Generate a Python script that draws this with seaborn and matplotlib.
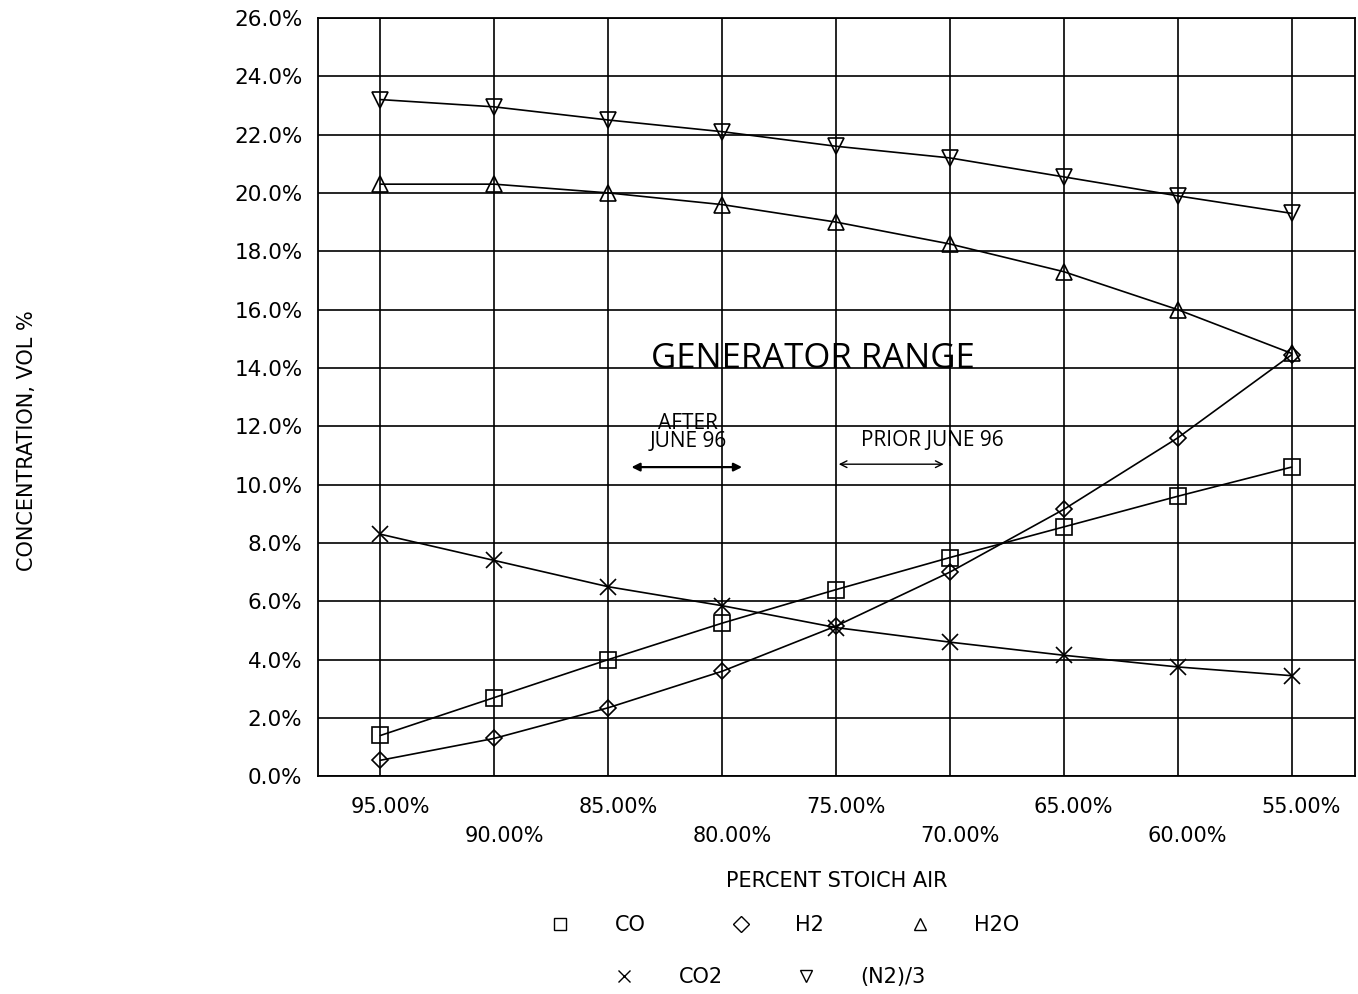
"""
Gas composition vs. percent stoichiometric air (generator range chart).
"""

import numpy as np
import pandas as pd
import matplotlib
matplotlib.use("Agg")
import matplotlib.pyplot as plt
import matplotlib.transforms as mtransforms
from matplotlib.lines import Line2D
from matplotlib.ticker import FixedLocator, FuncFormatter
import seaborn as sns

# ---- data (vol %) ----
stoich_air = ["95.00%", "90.00%", "85.00%", "80.00%", "75.00%",
              "70.00%", "65.00%", "60.00%", "55.00%"]
co = [1.4, 2.7, 4.0, 5.25, 6.4, 7.5, 8.55, 9.6, 10.6]
h2 = [0.55, 1.3, 2.35, 3.6, 5.15, 7.0, 9.15, 11.6, 14.45]
h2o = [20.3, 20.3, 20.0, 19.6, 19.0, 18.25, 17.3, 16.0, 14.5]
co2 = [8.3, 7.4, 6.5, 5.85, 5.1, 4.6, 4.15, 3.75, 3.45]
n2_3 = [23.2, 22.95, 22.5, 22.1, 21.6, 21.2, 20.55, 19.9, 19.3]

series = {"CO": co, "H2": h2, "H2O": h2o, "CO2": co2, "(N2)/3": n2_3}
markers = {"CO": "s", "H2": "D", "H2O": "^", "CO2": "x", "(N2)/3": "v"}
msizes = {"CO": 11, "H2": 8, "H2O": 11, "CO2": 11, "(N2)/3": 11}

idx = np.arange(len(stoich_air))
df = pd.DataFrame({"idx": np.tile(idx, len(series)),
                   "gas": np.repeat(list(series), len(idx)),
                   "conc": np.concatenate([series[k] for k in series])})

sns.set_theme(style="white")
plt.rcParams["font.family"] = ["DejaVu Sans"]
for k in ["text.color", "axes.labelcolor", "xtick.color", "ytick.color"]:
    plt.rcParams[k] = "black"

fig = plt.figure(figsize=(13.58, 9.94), dpi=100)
ax = fig.add_axes([0.234, 0.219, 0.764, 0.763])

for gas in series:
    sub = df[df["gas"] == gas]
    sns.lineplot(data=sub, x="idx", y="conc", ax=ax, color="black",
                 linewidth=1.2, marker=markers[gas], markersize=msizes[gas],
                 markerfacecolor="none", markeredgecolor="black",
                 markeredgewidth=1.2, legend=False, zorder=3)

ax.set_xlim(-0.55, 8.56)
ax.set_ylim(0, 26)

# staggered x tick labels: even positions high, odd positions low
ax.xaxis.set_major_locator(FixedLocator(idx[::2]))
ax.xaxis.set_minor_locator(FixedLocator(idx[1::2]))
ax.set_xticklabels(stoich_air[::2], fontsize=15)
ax.set_xticklabels(stoich_air[1::2], minor=True, fontsize=15)
ax.tick_params(axis="x", which="major", direction="out", length=10,
               width=1.3, color="black", pad=5)
ax.tick_params(axis="x", which="minor", direction="out", length=33,
               width=1.3, color="black", pad=3)
# labels sit slightly right of their ticks in the original
shift = mtransforms.ScaledTranslation(10 / 100, 0, fig.dpi_scale_trans)
for lab in ax.get_xticklabels() + ax.get_xticklabels(minor=True):
    lab.set_transform(lab.get_transform() + shift)

ax.set_yticks(np.arange(0, 27, 2))
ax.yaxis.set_major_formatter(FuncFormatter(lambda v, p: f"{v:.1f}%"))
ax.tick_params(axis="y", direction="out", length=9, width=1.3,
               color="black", pad=2, labelsize=15.5)

ax.grid(True, which="both", axis="x", color="black", linewidth=1.2)
ax.grid(True, which="major", axis="y", color="black", linewidth=1.2)
for s in ax.spines.values():
    s.set_color("black")
    s.set_linewidth(1.3)

ax.set_xlabel("PERCENT STOICH AIR", fontsize=15, labelpad=18)
ax.set_ylabel("")
fig.text(0.02, 0.557, "CONCENTRATION, VOL %", rotation=90, fontsize=15,
         ha="center", va="center")

# handwritten notes
hand = dict(color="black", fontfamily="Open Sans")
ax.text(3.8, 14.3, "GENERATOR RANGE", fontsize=25, ha="center", va="center", **hand)
ax.text(2.7, 11.8, "AFTER\nJUNE 96", fontsize=15, ha="center", va="center",
        linespacing=0.8, **hand)
ax.text(4.85, 11.5, "PRIOR JUNE 96", fontsize=15, ha="center", va="center", **hand)
ax.annotate("", xy=(3.2, 10.6), xytext=(2.18, 10.6),
            arrowprops=dict(arrowstyle="<|-|>", color="black", lw=1.6))
ax.annotate("", xy=(4.97, 10.7), xytext=(4.0, 10.7),
            arrowprops=dict(arrowstyle="<->", color="black", lw=1.0))

# legend: two centred rows
def handle(gas):
    return Line2D([], [], linestyle="none", marker=markers[gas], markersize=8,
                  markerfacecolor="none", markeredgecolor="black",
                  markeredgewidth=1.0, label=gas)

row1 = ["CO", "H2", "H2O"]
row2 = ["CO2", "(N2)/3"]
fig.legend(handles=[handle(g) for g in row1], loc="center",
           bbox_to_anchor=(0.574, 0.069), ncol=3, frameon=False,
           fontsize=15, handletextpad=1.6, columnspacing=3.6)
fig.legend(handles=[handle(g) for g in row2], loc="center",
           bbox_to_anchor=(0.563, 0.017), ncol=2, frameon=False,
           fontsize=15, handletextpad=1.6, columnspacing=3.0)

fig.savefig("out.png", dpi=100)
